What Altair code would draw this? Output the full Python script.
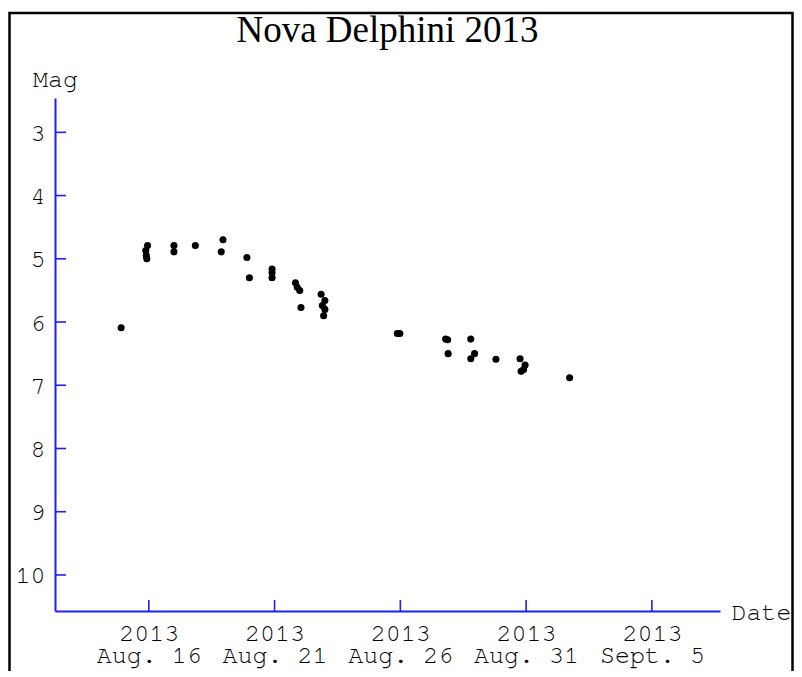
import altair as alt
import pandas as pd

# Observations: day of August 2013 (UTC, decimal) and visual magnitude
aug_day = [14.9, 15.95, 15.88, 15.9, 15.92, 17.0, 17.0, 17.85, 18.95, 18.88,
           19.9, 20.0, 20.9, 20.9, 20.9, 21.83, 21.9, 22.0, 22.05, 22.85,
           23.0, 22.9, 23.0, 22.95, 25.88, 25.98, 27.8, 27.88, 27.9, 28.8,
           28.95, 28.8, 29.8, 30.76, 30.96, 30.8, 30.9, 32.73]
mag = [6.09, 4.79, 4.87, 4.95, 5.0, 4.79, 4.89, 4.79, 4.70, 4.89,
       4.98, 5.3, 5.16, 5.22, 5.3, 5.38, 5.45, 5.5, 5.77, 5.56,
       5.66, 5.74, 5.8, 5.9, 6.18, 6.18, 6.27, 6.28, 6.5, 6.27,
       6.5, 6.58, 6.59, 6.58, 6.68, 6.78, 6.75, 6.88]

mag_ticks = [3, 4, 5, 6, 7, 8, 9, 10]
date_ticks = ["2013-08-16", "2013-08-21", "2013-08-26", "2013-08-31", "2013-09-05"]
chart_title = "Nova Delphini 2013"

base_date = pd.Timestamp("2013-08-01")
dates = [(base_date + pd.Timedelta(days=d - 1)).strftime("%Y-%m-%dT%H:%M:%SZ") for d in aug_day]
df = pd.DataFrame({"date": dates, "mag": mag})
df_yt = pd.DataFrame({"mag": mag_ticks})
df_xt = pd.DataFrame({"date": [t + "T00:00:00Z" for t in date_ticks]})
df_frame = pd.DataFrame({"k": [0]})
df_title = pd.DataFrame({"t": [chart_title]})

W, H = 665, 513
BLUE = "#1e1eff"
MONO = "FreeMono, 'Nimbus Mono PS', 'Nimbus Mono L', 'Courier New', Courier, 'Liberation Mono', monospace"

xscale = alt.Scale(type="utc", nice=False,
                   domain=[alt.DateTime(year=2013, month=8, date=12, hours=6, minutes=30, utc=True),
                           alt.DateTime(year=2013, month=9, date=7, hours=17, utc=True)])
yscale = alt.Scale(domain=[2.457, 10.57], reverse=True, nice=False, zero=False)

x_values = [alt.DateTime(year=2013, month=int(t[5:7]), date=int(t[8:10]), utc=True) for t in date_ticks]

xaxis = alt.Axis(values=x_values, title="Date", titleX=676, titleY=8.5,
                 titleAlign="left", titleBaseline="alphabetic",
                 labelExpr="['2013', (utcmonth(datum.value) == 8 ? 'Sept. ' : 'Aug. ') + utcdate(datum.value)]",
                 labelPadding=9.5, labelLineHeight=22, labelFlush=False,
                 labelOverlap=False)
yaxis = alt.Axis(values=mag_ticks, title="Mag", titleAngle=0, titleX=0, titleY=-12,
                 titleAlign="center", titleBaseline="alphabetic",
                 labelPadding=10)

X = alt.X("date:T", scale=xscale, axis=xaxis)
Y = alt.Y("mag:Q", scale=yscale, axis=yaxis)

points = alt.Chart(df).mark_circle(size=50, color="black", opacity=1).encode(x=X, y=Y)

ytick = alt.Chart(df_yt).mark_rule(color=BLUE, strokeWidth=1.6).encode(
    y=Y, x=alt.value(0), x2=alt.value(11),
)

xtick = alt.Chart(df_xt).mark_rule(color=BLUE, strokeWidth=1.6).encode(
    x=X, y=alt.value(H), y2=alt.value(H - 11),
)

frame = alt.Chart(df_frame).mark_rect(fillOpacity=0, stroke="black", strokeWidth=2.5).encode(
    x=alt.value(-45.5), x2=alt.value(737.5), y=alt.value(-85), y2=alt.value(700),
)

title = alt.Chart(df_title).mark_text(font="Liberation Serif", fontSize=37, color="black",
                                      align="center", baseline="alphabetic").encode(
    text="t:N", x=alt.value(W / 2), y=alt.value(-56.5),
)

chart = alt.layer(frame, title, ytick, xtick, points).properties(
    width=W, height=H,
    autosize=alt.AutoSizeParams(type="none"),
    padding={"left": 47, "top": 90, "right": 74, "bottom": 60},
).configure_view(stroke="transparent").configure_axis(
    domainColor=BLUE, domainWidth=2, ticks=False, tickSize=0, grid=False,
    labelFont=MONO, labelFontSize=25, labelColor="black", labelFontWeight="normal",
    titleFont=MONO, titleFontSize=25, titleFontWeight="normal", titleColor="black",
)

chart.save("out.html", embed_options={"renderer": "svg", "actions": False})
